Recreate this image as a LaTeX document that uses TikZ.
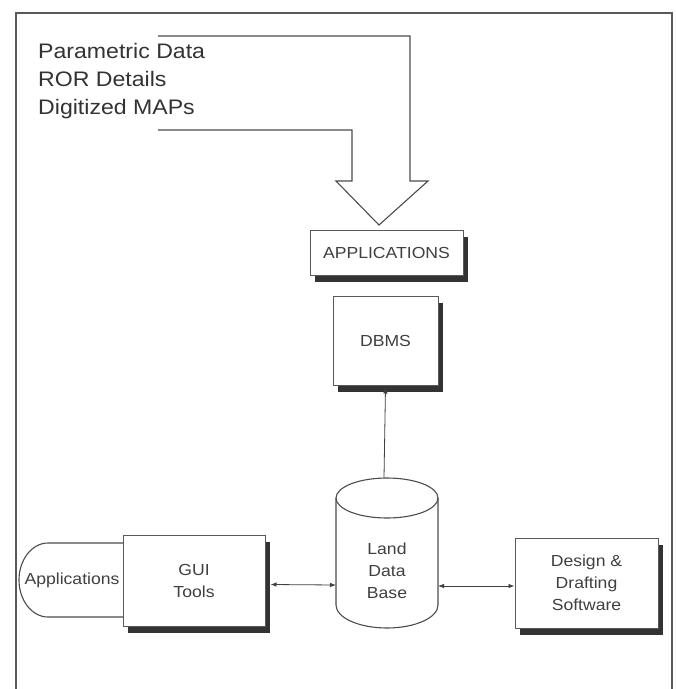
\documentclass[tikz,border=0pt]{standalone}
\usepackage{fontspec}
\setmainfont{Liberation Sans}
\newfontfamily\topfont[FakeStretch=1.1]{Liberation Sans}
\newfontfamily\boxfont[FakeStretch=1.1]{Liberation Sans}
\usetikzlibrary{arrows.meta,shadows}
\tikzset{
  frameline/.style={draw=black!65, line width=1.3pt},
  line/.style={draw=black!70, line width=1.1pt},
  conn/.style={draw=black!75, line width=0.8pt, {Latex[length=6pt,width=4.5pt]}-{Latex[length=6pt,width=4.5pt]}},
  oneway/.style={draw=black!75, line width=0.8pt, -{Latex[length=6pt,width=4.5pt]}},
  box/.style={rectangle, draw=black!65, line width=1pt, fill=white, inner sep=0pt,
    align=center, text=black!75, font=\boxfont\fontsize{16}{22}\selectfont,
    drop shadow={shadow xshift=5pt, shadow yshift=-7pt, fill=black!80, opacity=1}},
  plain/.style={inner sep=0pt, align=center, text=black!75, font=\boxfont\fontsize{16}{22}\selectfont}
}
\begin{document}
\begin{tikzpicture}[x=1pt,y=-1pt]
\useasboundingbox[fill=white] (0,0) rectangle (676,689);
% frame
\draw[frameline] (16,689) -- (16,13) -- (672,13) -- (672,689);
% inputs
\node[anchor=north west, inner sep=0pt, align=left, text=black!80,
  font=\topfont\fontsize{21}{28}\selectfont] (inputs) at (38,43)
  {Parametric Data\\ROR Details\\Digitized MAPs};
% big arrow
\coordinate (tip) at (379,225);
\draw[line] (158,36) -- (410,36) -- (410,181) -- (428,181) -- (tip)
  -- (336,181) -- (352,181) -- (352,130) -- (158,130);
% applications box
\node[box, minimum width=153pt, minimum height=45pt] (apps) at (386.5,252.5) {APPLICATIONS};
% DBMS
\node[box, minimum width=105pt, minimum height=89pt] (dbms) at (385.5,340.5) {DBMS};
% cylinder
\draw[line, fill=white] (336,498) -- (336,605) arc[start angle=180, end angle=360, x radius=51pt, y radius=23pt]
  -- (438,498);
\draw[line] (387,498) ellipse[x radius=51pt, y radius=20pt];
\node[plain] (land) at (387,571) {Land\\Data\\Base};
\coordinate (landN) at (384,478);
\coordinate (landW) at (336,585);
\coordinate (landE) at (438,586);
% stadium applications
\draw[line] (124,543) -- (48,543) arc[start angle=90, end angle=270, x radius=29pt, y radius=37pt] -- (124,617);
\node[plain] (appl) at (72,580) {Applications};
% GUI tools
\node[box, minimum width=142pt, minimum height=91pt] (gui) at (194,580.5) {GUI\\Tools};
% design
\node[box, minimum width=143pt, minimum height=90pt] (design) at (586.5,583) {Design \&\\Drafting\\Software};
% connectors
\draw[oneway] (landN) -- ([yshift=-2pt]dbms.south);
\draw[conn] ([shift={(5pt,-4pt)}]gui.east) -- (landW);
\draw[conn] (landE) -- (design.west |- landE);
\end{tikzpicture}
\end{document}
